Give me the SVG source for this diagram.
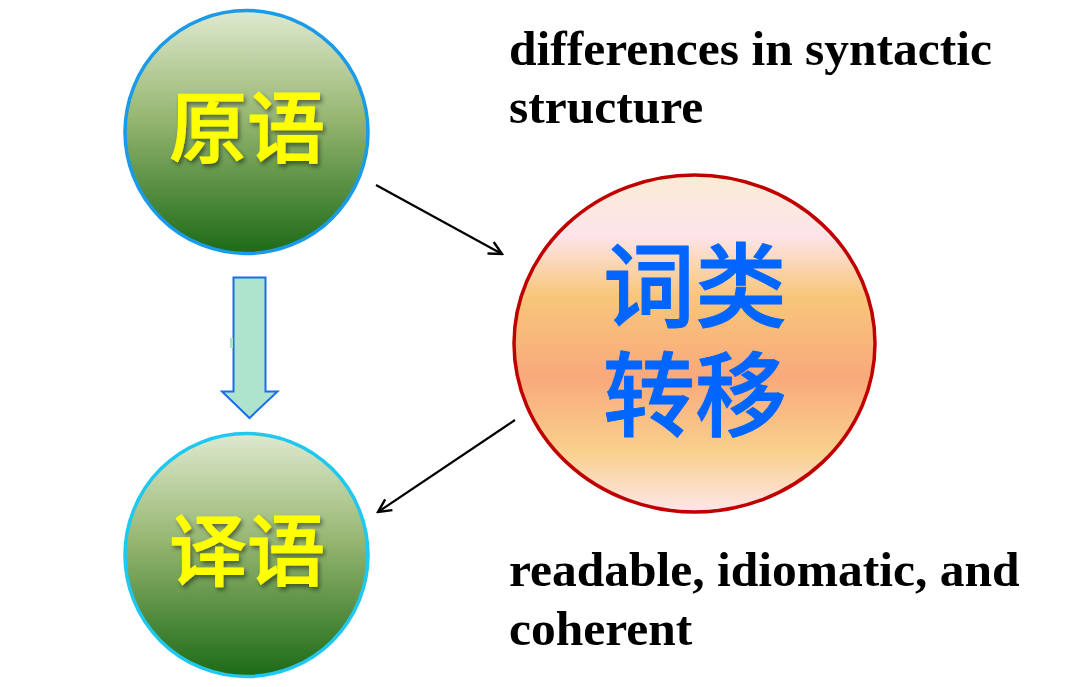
<svg xmlns="http://www.w3.org/2000/svg" width="1090" height="687" viewBox="0 0 1090 687">
<defs>
<linearGradient id="green" x1="0" y1="0" x2="0" y2="1">
<stop offset="0" stop-color="#dfe9cf"/>
<stop offset="0.45" stop-color="#94b56f"/>
<stop offset="1" stop-color="#1c6a17"/>
</linearGradient>
<linearGradient id="warm" x1="0" y1="0" x2="0" y2="1">
<stop offset="0" stop-color="#fbecd4"/>
<stop offset="0.18" stop-color="#fde4ea"/>
<stop offset="0.36" stop-color="#f8c67a"/>
<stop offset="0.6" stop-color="#f9a97b"/>
<stop offset="0.82" stop-color="#f9d08d"/>
<stop offset="1" stop-color="#fde6ea"/>
</linearGradient>
<filter id="sh" x="-10%" y="-10%" width="130%" height="130%">
<feDropShadow dx="2" dy="3" stdDeviation="2" flood-color="#000" flood-opacity="0.45"/>
</filter>
<marker id="open" viewBox="0 0 16 16" refX="14" refY="8" markerWidth="16" markerHeight="16" markerUnits="userSpaceOnUse" orient="auto">
<path d="M1,1.5 L14,8 L1,14.5" fill="none" stroke="#000" stroke-width="2.4"/>
</marker>
</defs>
<style>
.cjk{font-family:"Noto Sans CJK SC","Noto Sans CJK JP",sans-serif;font-weight:500;text-anchor:middle;stroke-width:1;stroke-linejoin:round}
.yel{fill:#ffff00;stroke:#ffff00;font-size:78px}
.blue{fill:#0066ff;stroke:#0066ff;font-size:92px}
.en{font-family:"Liberation Serif","Times New Roman",serif;font-weight:bold;font-size:49.5px;fill:#000}
.conn{stroke:#000;stroke-width:2.2;fill:none}
</style>
<g id="source">
<circle cx="246.5" cy="132" r="121.5" fill="url(#green)" stroke="#1a9be9" stroke-width="3.5"/>
<text class="cjk yel" x="247" y="157" filter="url(#sh)">原语</text>
</g>
<g id="target">
<circle cx="246.5" cy="555" r="121.5" fill="url(#green)" stroke="#1ec8ef" stroke-width="3.5"/>
<text class="cjk yel" x="247" y="580" filter="url(#sh)">译语</text>
</g>
<g id="conversion">
<ellipse cx="694.5" cy="343.5" rx="180.5" ry="168.5" fill="url(#warm)" stroke="#c00000" stroke-width="3.5"/>
<text class="cjk blue"><tspan x="695" y="320">词类</tspan><tspan x="695" y="429">转移</tspan></text>
</g>
<g id="block-arrow">
<path d="M233.5,277.5 H265.5 V391.5 H277.5 L249.5,418 L222,391.5 H233.5 Z" fill="#aee3cc" stroke="#1a6fe8" stroke-width="2"/>
<rect x="230" y="338" width="3" height="10" fill="#aee3cc"/>
</g>
<g id="connectors">
<line class="conn" x1="376" y1="185" x2="502" y2="254" marker-end="url(#open)"/>
<line class="conn" x1="515" y1="420" x2="378" y2="512" marker-end="url(#open)"/>
</g>
<g id="labels">
<text class="en" x="509" y="65">differences in syntactic</text>
<text class="en" x="509" y="123">structure</text>
<text class="en" x="509" y="586">readable, idiomatic, and</text>
<text class="en" x="509" y="645">coherent</text>
</g>
</svg>
